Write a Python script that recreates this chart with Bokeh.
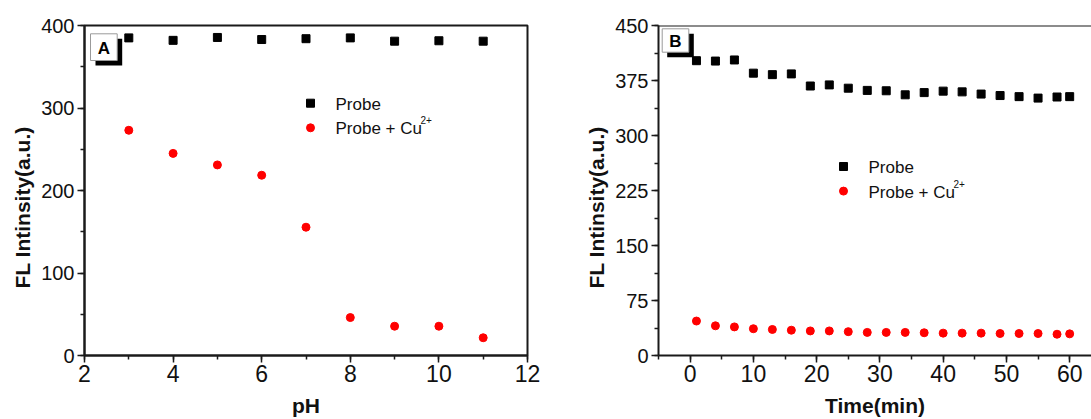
from bokeh.plotting import figure
from bokeh.layouts import row
from bokeh.models import Range1d, SingleIntervalTicker, Span, Title
from bokeh.core.properties import value
from bokeh.embed import file_html
from bokeh.resources import INLINE

# ---- data (panel A: pH) ----
ph = [3, 4, 5, 6, 7, 8, 9, 10, 11]
probe_ph = [385, 382, 385.5, 383, 384, 385, 381, 381.5, 381]
cu_ph = [273, 245, 231, 218.5, 155.5, 46, 35.5, 35.5, 21.5]

# ---- data (panel B: time) ----
time_min = [1, 4, 7, 10, 13, 16, 19, 22, 25, 28, 31, 34, 37, 40, 43, 46, 49, 52, 55, 58, 60]
probe_t = [402, 401.5, 403, 385, 383, 384, 367.5, 369, 364.5, 361.5, 361, 355.5, 358.5,
           360.5, 359.5, 356.5, 354.5, 353, 351, 352.5, 353]
cu_t = [47, 40.5, 39, 36.5, 35.5, 34.5, 33.5, 33.5, 32.5, 31.5, 31.5, 31.5, 31, 30.5,
        30.5, 30.5, 30, 30, 30, 29, 29.5]

legend_labels = ["Probe", "Probe + Cu"]
sup_label = "2+"
ylabel = "FL Intinsity(a.u.)"

FONT = "Liberation Sans"
AX = "#1a1a1a"
FRAME_H = 330


def make_panel(width, bl, br, xr, yr, xtick, ytick, xlabel, xs, y1, y2,
               tag, tag_box, legend_pos, outline):
    fw = width - bl - br
    p = figure(width=width, height=419, output_backend="svg", toolbar_location=None,
               x_range=Range1d(*xr), y_range=Range1d(*yr),
               min_border_left=bl, min_border_right=br, min_border_top=25,
               min_border_bottom=64)
    p.extra_x_ranges = {"px": Range1d(0, fw)}
    p.extra_y_ranges = {"py": Range1d(FRAME_H, 0)}
    p.grid.visible = False
    p.background_fill_color = "white"
    p.border_fill_color = "white"
    if outline:
        p.outline_line_color = AX
        p.outline_line_width = 2
        p.outline_line_alpha = 1
    else:
        p.outline_line_color = None
        p.add_layout(Span(location=yr[1], dimension="width", line_color=AX, line_width=2))

    p.xaxis.ticker = SingleIntervalTicker(interval=xtick, num_minor_ticks=2)
    p.yaxis.ticker = SingleIntervalTicker(interval=ytick, num_minor_ticks=2)
    for ax in (p.xaxis[0], p.yaxis[0]):
        ax.axis_line_color = AX
        ax.axis_line_width = 2
        ax.major_tick_line_color = AX
        ax.minor_tick_line_color = AX
        ax.major_tick_line_width = 1.5
        ax.minor_tick_line_width = 1.5
        ax.major_tick_in = 0
        ax.major_tick_out = 7
        ax.minor_tick_in = 0
        ax.minor_tick_out = 4
        ax.major_label_text_font = FONT
        ax.major_label_text_color = "#111"
        ax.axis_label_text_font = FONT
        ax.axis_label_text_font_style = "bold"
        ax.axis_label_text_font_size = "21px"
        ax.axis_label_text_color = "#111"
    p.xaxis.major_label_text_font_size = "23px"
    p.yaxis.major_label_text_font_size = "20px"
    p.xaxis.major_label_standoff = 2
    p.yaxis.major_label_standoff = 3
    p.xaxis.axis_label = xlabel
    p.xaxis.axis_label_standoff = 9

    # y title as a side title, anchored from the bottom so it sits below the frame centre
    p.add_layout(Title(text=ylabel, align="left", offset=67, standoff=10,
                       text_font=FONT, text_font_style="bold", text_font_size="21px",
                       text_color="#111"), "left")

    p.scatter(xs, y1, marker="square", size=8, color="black")
    p.scatter(xs, y2, marker="circle", size=8, color="#ff0000")

    # panel tag box with shadow
    x0, y0, x1, y1b = tag_box
    p.quad(left=[x0 + 5], right=[x1 + 5], top=[y0 + 5], bottom=[y1b + 5],
           fill_color="black", line_color=None, x_range_name="px", y_range_name="py")
    p.quad(left=[x0], right=[x1], top=[y0], bottom=[y1b], fill_color="white",
           line_color="#9a9a9a", line_width=1, x_range_name="px", y_range_name="py")
    p.text(x=[(x0 + x1) / 2], y=[(y0 + y1b) / 2 + 1], text=[tag], text_align="center",
           text_baseline="middle", text_font=value(FONT), text_font_style="bold",
           text_font_size="17px", text_color="black", x_range_name="px", y_range_name="py")

    # legend
    mx, my = legend_pos
    p.scatter(x=[mx], y=[my], marker="square", size=8, color="black",
              x_range_name="px", y_range_name="py")
    p.scatter(x=[mx], y=[my + 24.6], marker="circle", size=8, color="#ff0000",
              x_range_name="px", y_range_name="py")
    p.text(x=[mx + 25, mx + 25], y=[my + 1, my + 25.6], text=legend_labels,
           text_align="left", text_baseline="middle", text_font=value(FONT),
           text_font_size="17px", text_color="#111", x_range_name="px", y_range_name="py")
    p.text(x=[mx + 110], y=[my + 17], text=[sup_label], text_align="left",
           text_baseline="middle", text_font=value(FONT), text_font_size="10px",
           text_color="#111", x_range_name="px", y_range_name="py")
    return p


pa = make_panel(545, 84, 18, (2, 12), (0, 400), 2, 100, "pH", ph, probe_ph, cu_ph,
                "A", (6, 8.3, 32.7, 35), (226, 77.7), True)
pb = make_panel(546, 113, 0, (-5, 63.45), (0, 450), 10, 75, "Time(min)", time_min,
                probe_t, cu_t, "B", (3.7, 3.3, 30.3, 26.7), (185, 141), False)

layout = row(pa, pb)
open("out.html", "w").write(file_html(layout, INLINE))
